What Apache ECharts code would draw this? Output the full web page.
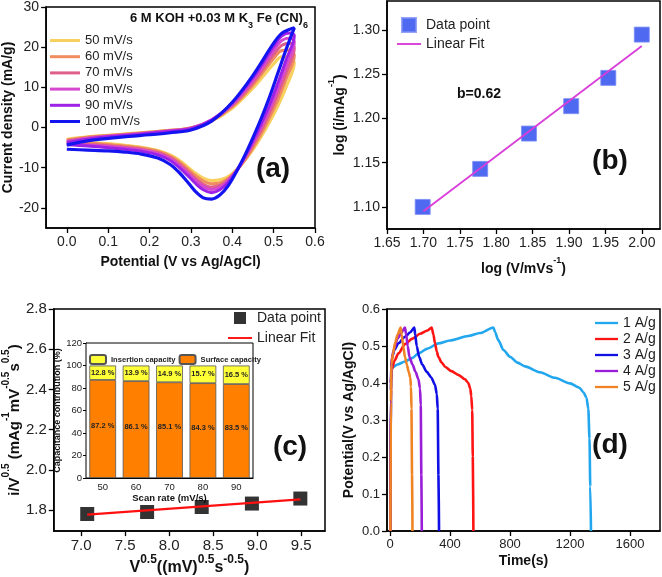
<!DOCTYPE html>
<html><head><meta charset="utf-8">
<script src="https://cdn.jsdelivr.net/npm/echarts@6/dist/echarts.min.js"></script>
<style>html,body{margin:0;padding:0;background:#fff}#c{width:662px;height:577px}</style>
</head><body><div id="c"></div><script>
// ---------- Panel (a): CV curves ----------
const cvRates = ['50 mV/s','60 mV/s','70 mV/s','80 mV/s','90 mV/s','100 mV/s'];
const cvColors = ['#F7D05E','#F08C5E','#DE5F8C','#D548CF','#9E22E6','#1414F0'];
const cvFwdX = [0,0.05,0.1,0.15,0.2,0.25,0.3,0.35,0.4,0.45,0.5,0.52,0.54,0.55];
const cvRevX = [0.53,0.51,0.49,0.47,0.45,0.43,0.41,0.39,0.37,0.35,0.33,0.31,0.29,0.27,0.25,0.22,0.18,0.14,0.10,0.05,0];
const cvFwd50 = [-2.9,-2.3,-1.9,-1.5,-1.1,-0.7,-0.1,1.6,4.8,9.8,15.8,17.6,17.3,16.1];
const cvFwd60 = [-3.1,-2.4,-2.0,-1.6,-1.2,-0.7,-0.1,1.7,5.2,10.6,17.2,19.2,19.3,18.0];
const cvFwd70 = [-3.3,-2.6,-2.1,-1.7,-1.3,-0.8,-0.1,1.8,5.5,11.2,18.2,20.5,21.0,19.8];
const cvFwd80 = [-3.5,-2.7,-2.2,-1.8,-1.3,-0.8,-0.2,1.9,5.8,11.8,19.2,21.7,22.3,21.3];
const cvFwd90 = [-3.7,-2.9,-2.3,-1.9,-1.4,-0.9,-0.3,1.9,6.1,12.4,20.2,22.8,23.5,22.9];
const cvFwd100 = [-4.3,-3.3,-2.7,-2.2,-1.8,-1.3,-0.6,1.6,6.3,13.0,21.0,23.5,24.5,24.8];
const cvRev50 = [10.0,5.3,1.3,-2.3,-5.5,-8.2,-10.5,-12.2,-13.0,-13.2,-12.6,-11.3,-9.6,-8.0,-6.8,-5.7,-4.9,-4.4,-4.0,-3.7,-3.4];
const cvRev60 = [12.0,6.8,2.5,-1.5,-5.0,-8.2,-10.8,-12.7,-13.8,-14.0,-13.3,-11.9,-10.1,-8.4,-7.1,-5.9,-5.1,-4.6,-4.2,-3.9,-3.6];
const cvRev70 = [13.6,8.3,3.6,-0.6,-4.3,-7.8,-10.7,-13.0,-14.4,-14.8,-14.1,-12.6,-10.7,-8.9,-7.5,-6.2,-5.4,-4.9,-4.5,-4.2,-3.9];
const cvRev80 = [15.2,9.6,4.6,0.2,-3.8,-7.5,-10.8,-13.3,-14.9,-15.4,-14.7,-13.1,-11.1,-9.3,-7.8,-6.5,-5.6,-5.1,-4.7,-4.4,-4.1];
const cvRev90 = [16.8,11.0,5.6,1.0,-3.3,-7.3,-10.9,-13.7,-15.5,-16.2,-15.5,-13.8,-11.7,-9.8,-8.2,-6.8,-5.9,-5.4,-5.0,-4.6,-4.3];
const cvRev100 = [19.4,13.5,7.6,2.3,-2.5,-7.0,-11.0,-14.5,-16.8,-17.8,-17.5,-15.8,-13.3,-11.0,-9.2,-7.6,-6.6,-6.1,-5.8,-5.6,-5.4];
const cvFwdAll = [cvFwd50,cvFwd60,cvFwd70,cvFwd80,cvFwd90,cvFwd100];
const cvRevAll = [cvRev50,cvRev60,cvRev70,cvRev80,cvRev90,cvRev100];
const aXTicks = [0,0.1,0.2,0.3,0.4,0.5,0.6];
const aYTicks = [-20,-10,0,10,20,30];

// ---------- Panel (b): log i vs log v ----------
const logV = [1.699,1.778,1.845,1.903,1.954,2.000];
const logI = [1.100,1.143,1.183,1.214,1.246,1.295];
const bFitX = [1.70,2.00];
const bFitY = [1.095,1.282];
const bXTicks = [1.65,1.70,1.75,1.80,1.85,1.90,1.95,2.00];
const bYTicks = [1.10,1.15,1.20,1.25,1.30];

// ---------- Panel (c): i/v^0.5 vs v^0.5 ----------
const sqrtV = [7.07,7.75,8.37,8.94,9.49];
const iOverSqrtV = [1.780,1.790,1.815,1.832,1.857];
const cFitX = [7.07,9.49];
const cFitY = [1.777,1.853];
const cXTicks = [7.0,7.5,8.0,8.5,9.0,9.5];
const cYTicks = [1.8,2.0,2.2,2.4,2.6,2.8];
// inset
const scanRates = ['50','60','70','80','90'];
const surfaceCap = [87.2,86.1,85.1,84.3,83.5];
const insertionCap = [12.8,13.9,14.9,15.7,16.5];

// ---------- Panel (d): GCD ----------
const gcdNames = ['1 A/g','2 A/g','3 A/g','4 A/g','5 A/g'];
const gcdColors = ['#22A6EE','#FF1414','#1010E6','#9A1ED8','#F08424'];
const gcd1 = [[3,0],[6,0.38],[11,0.44],[50,0.45],[100,0.458],[150,0.468],[189,0.48],[250,0.493],[322,0.507],[400,0.515],[522,0.527],[600,0.535],[689,0.55],[700,0.538],[722,0.516],[756,0.489],[800,0.471],[850,0.455],[900,0.445],[1000,0.429],[1100,0.414],[1200,0.399],[1260,0.388],[1290,0.375],[1310,0.36],[1322,0.33],[1330,0.25],[1335,0.12],[1340,0]];
const gcd2 = [[3,0],[6,0.4],[11,0.435],[30,0.46],[56,0.48],[100,0.505],[150,0.52],[200,0.533],[250,0.542],[278,0.55],[290,0.53],[300,0.507],[312,0.485],[322,0.471],[345,0.455],[367,0.444],[410,0.432],[455,0.422],[500,0.41],[522,0.4],[535,0.385],[542,0.365],[548,0.327],[552,0.2],[556,0]];
const gcd3 = [[3,0],[6,0.4],[11,0.465],[30,0.49],[56,0.507],[100,0.525],[135,0.537],[162,0.55],[168,0.53],[178,0.5],[195,0.47],[215,0.45],[245,0.43],[275,0.415],[300,0.395],[312,0.37],[318,0.33],[323,0.15],[327,0]];
const gcd4 = [[3,0],[6,0.38],[10,0.46],[25,0.49],[50,0.52],[75,0.535],[100,0.55],[108,0.53],[118,0.5],[130,0.47],[150,0.45],[170,0.43],[190,0.41],[200,0.385],[205,0.34],[209,0.15],[212,0]];
const gcd5 = [[3,0],[6,0.35],[10,0.45],[20,0.48],[35,0.51],[50,0.53],[71,0.55],[78,0.53],[88,0.5],[100,0.47],[112,0.45],[125,0.43],[135,0.415],[140,0.39],[143,0.33],[147,0.15],[150,0]];
const gcdAll = [gcd1,gcd2,gcd3,gcd4,gcd5];
const dXTicks = [0,400,800,1200,1600];
const dYTicks = [0,0.1,0.2,0.3,0.4,0.5,0.6];

// ---------- build ----------
const FONT = 'Arial, "Liberation Sans", Helvetica, sans-serif';
const chart = echarts.init(document.getElementById('c'), null, {renderer:'canvas'});

function supRich(base, sup){
  return {
    n:{fontSize:base, fontWeight:'bold', fontFamily:FONT, color:'#111', lineHeight:base+6, verticalAlign:'bottom'},
    s:{fontSize:sup, fontWeight:'bold', fontFamily:FONT, color:'#111', lineHeight:sup+1, verticalAlign:'top'}
  };
}
function valAxis(o){
  return {
    type:'value', gridIndex:o.g, min:o.min, max:o.max,
    name:o.name, nameLocation:'middle', nameGap:o.gap, nameRotate:o.rot||0,
    nameTextStyle:{fontSize:o.nfs||14, fontWeight:'bold', fontFamily:FONT, color:'#111', rich:o.rich},
    axisLine:{show:true, onZero:false, lineStyle:{color:'#000', width:1.5}},
    axisTick:{show:true, inside:false, length:5, customValues:o.ticks, lineStyle:{color:'#000', width:1.3}},
    axisLabel:{show:true, customValues:o.ticks, fontSize:o.fs||14, fontFamily:FONT, color:'#222', margin:o.margin||7,
      formatter:o.fmt},
    splitLine:{show:false}
  };
}
const fmt1 = v => v.toFixed(1);
const fmt2 = v => v.toFixed(2);
const fmt0 = v => String(Math.round(v));

const grids = [
  {left:43, top:6, width:272, height:222},
  {left:387, top:1, width:273, height:228},
  {left:48, top:309, width:277, height:223},
  {left:387, top:309, width:273, height:222},
  {left:86, top:343, width:167, height:135, backgroundColor:'#fff', z:5}
].map(g => Object.assign({show:true, borderColor:'#000', borderWidth:1.5, containLabel:false}, g));
grids[4].borderWidth = 1;

const xAxes = [
  valAxis({g:0, min:-0.05, max:0.6, ticks:aXTicks, fmt:fmt1, name:'Potential (V vs Ag/AgCl)', gap:27}),
  valAxis({g:1, min:1.65, max:2.025, ticks:bXTicks, fmt:fmt2, gap:27,
    name:'{n|log (V/mVs}{s|-1}{n|)}', rich:supRich(14,9)}),
  valAxis({g:2, min:6.69, max:9.77, ticks:cXTicks, fmt:fmt1, fs:15, gap:21,
    name:'{n|V}{s|0.5}{n|((mV)}{s|0.5}{n|s}{s|-0.5}{n|)}', rich:supRich(16,12)}),
  valAxis({g:3, min:-20, max:1800, ticks:dXTicks, fmt:fmt0, fs:13, name:'Time(s)', gap:23}),
  {type:'category', gridIndex:4, data:scanRates,
    name:'Scan rate (mV/s)', nameLocation:'middle', nameGap:13,
    nameTextStyle:{fontSize:9.5, fontWeight:'bold', fontFamily:FONT, color:'#111'},
    axisLine:{lineStyle:{color:'#000', width:1}},
    axisTick:{alignWithLabel:true, length:3, lineStyle:{color:'#000'}},
    axisLabel:{fontSize:9.5, fontFamily:FONT, color:'#222', margin:4}}
];
const yAxes = [
  valAxis({g:0, min:-25, max:30, ticks:aYTicks, fmt:fmt0, name:'Current density (mA/g)', gap:29, rot:90}),
  valAxis({g:1, min:1.075, max:1.333, ticks:bYTicks, fmt:fmt2, gap:40, rot:90,
    name:'{n|log (i/mAg}{s|-1}{n|)}', rich:supRich(14,9)}),
  valAxis({g:2, min:1.695, max:2.8, ticks:cYTicks, fmt:fmt1, fs:15, gap:30, rot:90,
    name:'{n|i/V}{s|0.5}{n| (mAg}{s|-1}{n|mV}{s|-0.5}{n|s}{s|0.5}{n|)}', rich:supRich(15,10)}),
  valAxis({g:3, min:0, max:0.6, ticks:dYTicks, fmt:fmt1, fs:13, name:'Potential(V vs Ag/AgCl)', gap:31, rot:90}),
  {type:'value', gridIndex:4, min:0, max:120, interval:20,
    name:'Capacitance contribution (%)', nameLocation:'middle', nameGap:20, nameRotate:90,
    nameTextStyle:{fontSize:9, fontWeight:'bold', fontFamily:FONT, color:'#111'},
    axisLine:{show:true, lineStyle:{color:'#000', width:1}},
    axisTick:{show:true, length:3, lineStyle:{color:'#000'}},
    axisLabel:{fontSize:9.5, fontFamily:FONT, color:'#222', margin:4},
    splitLine:{show:false}}
];

const series = [];
// (a)
cvRates.forEach((r,i) => {
  const pts = cvFwdX.map((x,j)=>[x, cvFwdAll[i][j]]).concat(cvRevX.map((x,j)=>[x, cvRevAll[i][j]]));
  series.push({type:'line', name:r, xAxisIndex:0, yAxisIndex:0, data:pts, symbol:'none', smooth:0.35,
    lineStyle:{color:cvColors[i], width: i===5?3.2:3}, itemStyle:{color:cvColors[i]}, z:2+i});
});
// (b)
series.push({type:'line', name:'Linear Fit', xAxisIndex:1, yAxisIndex:1, data:bFitX.map((x,i)=>[x,bFitY[i]]),
  symbol:'none', lineStyle:{color:'#D93ED9', width:1.8}, itemStyle:{color:'#D93ED9'}, z:3});
series.push({type:'scatter', name:'Data point', xAxisIndex:1, yAxisIndex:1, data:logV.map((x,i)=>[x,logI[i]]),
  symbol:'rect', symbolSize:15, itemStyle:{color:'#2443EE', borderColor:'#7B8DF4', borderWidth:1}, z:2});
// (c)
series.push({type:'scatter', name:'Data point (c)', xAxisIndex:2, yAxisIndex:2, data:sqrtV.map((x,i)=>[x,iOverSqrtV[i]]),
  symbol:'rect', symbolSize:14, itemStyle:{color:'#000'}, z:2});
series.push({type:'line', name:'Linear Fit (c)', xAxisIndex:2, yAxisIndex:2, data:cFitX.map((x,i)=>[x,cFitY[i]]),
  symbol:'none', lineStyle:{color:'#FF1010', width:2.2}, itemStyle:{color:'#FF1010'}, z:3});
// inset
series.push({type:'bar', name:'Surface capacity', xAxisIndex:4, yAxisIndex:4, stack:'cap', data:surfaceCap, barWidth:'80%',
  itemStyle:{color:'#FF8000', borderColor:'#555', borderWidth:0.8}, z:6,
  label:{show:true, position:'inside', formatter:p=>p.value+' %', fontSize:7.5, fontWeight:'bold', fontFamily:FONT, color:'#222', offset:[0,-3]}});
series.push({type:'bar', name:'Insertion capacity', xAxisIndex:4, yAxisIndex:4, stack:'cap', data:insertionCap, barWidth:'80%',
  itemStyle:{color:'#FFFF38', borderColor:'#555', borderWidth:0.8}, z:6,
  label:{show:true, position:'inside', formatter:p=>p.value+' %', fontSize:7.5, fontWeight:'bold', fontFamily:FONT, color:'#222'}});
// (d)
gcdNames.forEach((n,i) => {
  series.push({type:'line', name:n, xAxisIndex:3, yAxisIndex:3, data:gcdAll[i], symbol:'none', smooth:0.25, smoothMonotone:'x',
    lineStyle:{color:gcdColors[i], width:2.6}, itemStyle:{color:gcdColors[i]}, z:2+i});
});

const SQ = 'path://M0,0L10,0L10,10L0,10Z';
const LN = 'path://M0,0L30,0L30,3L0,3Z';
const LN2 = 'path://M0,0L25,0L25,2L0,2Z';
const legends = [
  {data:cvRates.map(n=>({name:n, icon:LN})), orient:'vertical', left:50, top:34, padding:0, itemWidth:30, itemHeight:14, itemGap:3.2,
    symbolKeepAspect:true, textStyle:{fontSize:13, fontFamily:FONT, color:'#222'}},
  {data:[{name:'Data point', icon:SQ},{name:'Linear Fit', icon:LN2}], orient:'vertical', left:397, top:17, padding:0, itemWidth:24, itemHeight:14, itemGap:4,
    symbolKeepAspect:true, textStyle:{fontSize:14, fontFamily:FONT, color:'#222'}},
  {data:[{name:'Data point (c)', icon:SQ},{name:'Linear Fit (c)', icon:LN2}], orient:'vertical', left:228, top:311, padding:0, itemWidth:24, itemHeight:12, itemGap:6,
    symbolKeepAspect:true, formatter:n=>n.replace(' (c)',''), textStyle:{fontSize:14, fontFamily:FONT, color:'#222'}},
  {data:gcdNames.map(n=>({name:n, icon:LN})), orient:'vertical', left:595, top:316, padding:0, itemWidth:23, itemHeight:14, itemGap:2,
    symbolKeepAspect:true, textStyle:{fontSize:14, fontFamily:FONT, color:'#222'}},
  {data:['Insertion capacity','Surface capacity'], orient:'horizontal', left:89, top:354, padding:0, itemWidth:16, itemHeight:9, itemGap:3, z:7,
    textStyle:{fontSize:7.6, fontWeight:'bold', fontFamily:FONT, color:'#222'}}
];

function bigLabel(t, x, y){
  return {type:'text', x:x, y:y, z:10, style:{text:t, font:'bold 28px '+FONT, fill:'#111',
    align:'center', verticalAlign:'middle', textAlign:'center', textVerticalAlign:'middle'}};
}
const graphic = [
  bigLabel('(a)', 273, 169), bigLabel('(b)', 610, 161), bigLabel('(c)', 290, 447), bigLabel('(d)', 610, 445),
  {type:'text', x:130, y:12, z:10, style:{
    text:'{b|6 M KOH +0.03 M K}{u|3}{b| Fe (CN)}{u|6}',
    rich:{b:{fontSize:13, fontWeight:'bold', fontFamily:FONT, fill:'#111', color:'#111', lineHeight:18, verticalAlign:'top'},
          u:{fontSize:9, fontWeight:'bold', fontFamily:FONT, fill:'#111', color:'#111', lineHeight:10, verticalAlign:'bottom'}}}},
  {type:'text', x:457, y:94, z:10, style:{text:'b=0.62', font:'bold 14px '+FONT, fill:'#111', verticalAlign:'middle', textVerticalAlign:'middle'}}
];

chart.setOption({
  animation:false, backgroundColor:'#fff',
  textStyle:{fontFamily:FONT},
  grid:grids, xAxis:xAxes, yAxis:yAxes, series:series, legend:legends, graphic:graphic
});
</script></body></html>
